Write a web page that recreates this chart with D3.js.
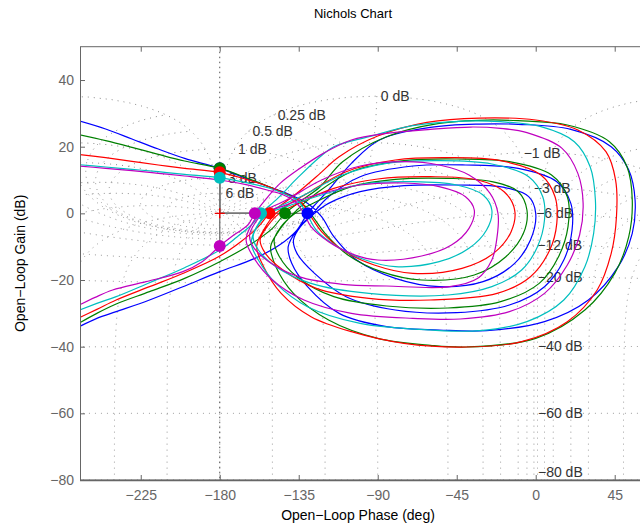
<!DOCTYPE html>
<html><head><meta charset="utf-8">
<script src="https://cdn.jsdelivr.net/npm/d3@7"></script>
<style>body{margin:0;background:#fff;overflow:hidden}text{font-family:"Liberation Sans",Arial,sans-serif}</style>
</head><body><svg id="c" width="640" height="527"></svg>
<script>
// ---------- data ----------
const xTicks = [-225, -180, -135, -90, -45, 0, 45];
const yTicks = [-80, -60, -40, -20, 0, 20, 40];
const gridGainsDb = [6, 3, 1, 0.5, 0.25, 0, -1, -3, -6, -12, -20, -40, -60, -80];
const gridPhasesDeg = [-1, -5, -10, -20, -30, -50, -90, -120, -150, -180, -210, -240, -270, -310, -330, -340, -350, -355, -359];
const seriesColors = ["#0000ff", "#008000", "#ff0000", "#00bfbf", "#bf00bf"];
// open-loop responses: [phase (deg), gain (dB)]
const blueResp = [[-262,28],[-245,25.3],[-230,22.3],[-215,19.3],[-200,16.5],[-180,13.5],[-165,10.5],[-150,7.6],[-140,5.6],[-130,3],[-122,-1],
 [-115,-7],[-102,-14],[-80,-19.5],[-55,-22],[-30,-20.5],[-12,-15],[-3,-8],[0,0],
 [-4,5],[-18,7.8],[-45,8.5],[-75,8.3],[-100,6.5],[-118,3],[-126,0],
 [-134,-4],[-138,-8],[-136,-12],
 [-126,-18],[-108,-25],[-80,-29],[-45,-29.8],[-15,-27.5],[5,-22],[16,-14],[20.7,-5],
 [20,3],[12,9.5],[-10,13.5],[-40,14.5],[-70,14.2],[-100,11],[-118,5],[-127,0],
 [-136,-5],[-141,-10],[-139,-15],
 [-130,-22],[-112,-30],[-85,-34],[-55,-35],[-28,-35.2],[5,-32.5],[30,-26],[47,-16],[55,-6],
 [56.6,4],[53,13],[43,20],[20,25.2],[-10,26.7],[-32,26.8],[-60,25.8],[-89,22],[-105,15],[-118,7],[-125,3],[-130,0],
 [-136,-5],[-146,-9.5],[-160,-13.5],[-180,-17.5],[-201,-22],[-220,-26],[-239,-29.5],[-250,-31.5],[-262,-34.5]];
const greenResp = [[-262,23.8],[-245,21.8],[-230,19.8],[-215,17.7],[-200,15.7],[-180,13.5],[-165,10.7],[-152,8],[-143,6],[-134,3.5],[-127,-1],
 [-120,-6],[-107,-12.5],[-88,-17.5],[-65,-20],[-35,-18.5],[-17,-13],[-7,-6],[-5,1],
 [-10,6.5],[-25,9.5],[-50,10.5],[-80,10.2],[-105,8],[-125,3.5],[-137,0],
 [-145,-4],[-149,-8],[-146,-13],
 [-136,-19],[-115,-25],[-85,-27.8],[-50,-28.4],[-20,-26.5],[2,-21],[13,-13],[18.4,-4],
 [18,5],[9,11.5],[-15,15.5],[-45,16.3],[-75,15.8],[-105,12.5],[-125,6],[-138,0],
 [-146,-5],[-151,-10],[-148,-16],
 [-138,-24],[-118,-32],[-90,-37.5],[-60,-39.6],[-39,-40.1],[0,-37.5],[28,-29],[45,-18],[53,-7],
 [55,4],[52,14],[42,21.5],[18,26.5],[-10,27.8],[-28,28],[-55,27],[-85,23],[-110,15.5],[-122.8,8],[-133,4],[-142.8,0],
 [-150,-4.5],[-163,-9.5],[-180,-14.5],[-200,-19.5],[-220,-23.5],[-239,-27.2],[-250,-30],[-262,-33.5]];
const redResp = [[-262,17.8],[-245,16.7],[-230,15.6],[-215,14.5],[-200,13.5],[-180,12.3],[-165,10.2],[-152,8],[-143,6],[-134,3.5],[-128,-1],
 [-122,-5.5],[-110,-11],[-92,-15.5],[-70,-18],[-42,-16.5],[-24,-12],[-14,-5.5],[-12,1],
 [-18,6.5],[-33,10],[-60,11],[-90,10.3],[-115,7.5],[-135,3],[-146,0],
 [-153,-4],[-157,-8],[-154,-12],
 [-144,-17],[-125,-22.5],[-95,-25.5],[-60,-26],[-22,-24],[-3,-19],[8,-11],[12,-3],
 [11,5],[3,11.5],[-20,15.8],[-50,16.7],[-80,16],[-108,12.5],[-130,6],[-148,0],
 [-155,-5],[-159,-10],[-155,-16],
 [-145,-24],[-128,-31],[-105,-35.5],[-75,-39],[-39,-40.1],[-8,-38.5],[18,-32.5],[35,-23],[43,-12],[46,-1],
 [45.5,10],[40,18.5],[24,25],[0,28],[-32,28.6],[-62,27.3],[-90,23.2],[-112,17],[-122.8,12],[-135,6.5],[-145,2.5],[-151.7,0],
 [-158,-4],[-168,-8.5],[-180,-12.8],[-200,-17.8],[-220,-22],[-239,-26],[-250,-28.8],[-262,-31.8]];
const cyanResp = [[-262,14.7],[-245,13.9],[-230,13.2],[-215,12.5],[-200,11.7],[-180,10.7],[-165,9.2],[-152,7.6],[-143,5.8],[-135,3.5],[-130,-0.5],
 [-125,-5],[-113,-10],[-97,-14],[-80,-16],[-55,-14.5],[-38,-10.5],[-28,-5],[-25,1],
 [-30,5.5],[-45,8.5],[-70,9.5],[-98,8.8],[-122,5.5],[-142,2],[-152,0],
 [-158,-3.5],[-161,-7],[-158,-11],
 [-148,-16],[-128,-21],[-95,-24],[-50,-24.5],[-25,-22],[-8,-17],[1,-10],[5,-2],
 [4,5],[-4,11],[-25,14.8],[-55,15.8],[-85,15],[-110,11.5],[-132,5.5],[-153,0],
 [-159,-4],[-162,-9],[-158,-14],
 [-148,-21],[-130,-28],[-100,-33],[-60,-35],[-32,-35.2],[-5,-32.5],[16,-26],[28,-16],[33,-6],
 [34,4],[31,14],[22,21.5],[3,26],[-20,27.5],[-41,27.7],[-70,26.3],[-95,23],[-115,20],[-122.8,17],[-135,11],[-147,4.5],[-156.5,0],
 [-162,-3.5],[-170,-7],[-180,-11],[-200,-16.3],[-220,-20.8],[-239,-25],[-250,-27],[-262,-29.5]];
const magentaResp = [[-262,14.3],[-245,13.5],[-230,12.8],[-215,12],[-200,11.2],[-180,10],[-165,8.6],[-153,7],[-144,5.6],[-137,3.5],[-132,0],
 [-128,-4],[-118,-8.5],[-104,-12.3],[-90,-14],[-65,-12.8],[-48,-9.5],[-38,-4.5],[-35,1],
 [-40,5],[-55,8],[-75,9.1],[-100,8.5],[-125,5.5],[-145,2],[-155,0],
 [-160,-3],[-163,-6.5],[-161,-10],
 [-152,-14.5],[-135,-19],[-110,-21.3],[-85,-21.8],[-49,-22],[-33,-19.5],[-25,-14],[-22,-7],[-21.5,0],
 [-26,6],[-38,11.5],[-55,14.5],[-75,15.5],[-100,14.2],[-122,10],[-142,4],[-157,0],
 [-162,-3.5],[-165,-8],[-161,-13],
 [-150,-20],[-132,-26],[-105,-30],[-70,-31.5],[-43,-31.7],[-15,-29.5],[5,-24],[18,-15.5],[25,-6.5],
 [27,3],[24,12],[15,19.5],[-5,24.2],[-20,25.5],[-37,25.9],[-60,25.2],[-85,24],[-105,22],[-121,18],[-134,13.6],[-145.6,9],[-153.2,4.6],[-160,0],
 [-164,-3.5],[-172,-6.5],[-180,-9.8],[-190,-14.5],[-201,-17.5],[-222,-20.5],[-241,-23],[-251,-25.2],[-262,-28]];
const gainMarginPts = [[-180,13.5],[-180,13.5],[-180,12.3],[-180,10.7],[-180,-9.8]];
const phaseMarginPts = [[-130,0],[-142.8,0],[-151.7,0],[-156.5,0],[-160,0]];
const seriesResp = [blueResp, greenResp, redResp, cyanResp, magentaResp];

// ---------- layout ----------
const svg = d3.select("#c");
const L = 80, R = 658.6, T = 46.7, B = 480;
const x = d3.scaleLinear().domain([-259.6, 70]).range([L, R]);
const y = d3.scaleLinear().domain([-80, 50]).range([B, T]);

svg.append("defs").append("clipPath").attr("id", "clip")
  .append("rect").attr("x", L).attr("y", T).attr("width", R - L).attr("height", B - T);

const gridG = svg.append("g").attr("clip-path", "url(#clip)");
const lineGen = d3.line().x(d => x(d[0])).y(d => y(d[1]));

function openLoop(mag, thDeg) {
  const th = thDeg * Math.PI / 180;
  const tr = mag * Math.cos(th), ti = mag * Math.sin(th);
  const dr = 1 - tr, di = -ti;
  const den = dr * dr + di * di;
  const lr = (tr * dr + ti * di) / den, li = (ti * dr - tr * di) / den;
  return [Math.atan2(li, lr) * 180 / Math.PI, 10 * Math.log10(lr * lr + li * li)];
}
function unwrap(pts) {
  for (let i = 1; i < pts.length; i++) {
    while (pts[i][0] - pts[i - 1][0] > 180) pts[i][0] -= 360;
    while (pts[i][0] - pts[i - 1][0] < -180) pts[i][0] += 360;
  }
  return pts;
}
const shifts = [-360, 0, 360];
const gridStyle = s => s.attr("fill", "none").attr("stroke", "#8a8a8a").attr("stroke-width", 1).attr("stroke-dasharray", "1,5");

// closed-loop gain contours
const labelPts = [];
gridGainsDb.forEach(db => {
  const m = Math.pow(10, db / 20);
  const pts = [];
  for (let th = -1; th >= -359; th -= 0.25) pts.push(openLoop(m, th));
  unwrap(pts);
  labelPts.push({ db, p: pts[0] });
  shifts.forEach(s => {
    gridG.append("path").datum(pts.map(d => [d[0] + s, Math.max(-120, d[1])])).attr("d", lineGen).call(gridStyle);
  });
});
// closed-loop phase contours
gridPhasesDeg.forEach(ph => {
  const pts = [];
  for (let t = -5; t <= 4; t += 0.002) pts.push(openLoop(Math.pow(10, t), ph));
  pts[0][0] = ph;
  unwrap(pts);
  shifts.forEach(s => {
    gridG.append("path").datum(pts.map(d => [d[0] + s, d[1]])).attr("d", lineGen).call(gridStyle);
  });
});
// -180 line
gridG.append("line").attr("x1", x(-180)).attr("x2", x(-180)).attr("y1", T).attr("y2", B)
  .attr("stroke", "#555").attr("stroke-width", 1).attr("stroke-dasharray", "1.5,3.5");

// contour labels
const labG = svg.append("g");
labelPts.forEach(o => {
  let yy = y(o.p[1]);
  yy = Math.min(yy, B - 8);
  labG.append("text").attr("x", x(o.p[0]) + 4).attr("y", yy).attr("dy", "0.35em")
    .attr("font-size", 14).attr("fill", "#333")
    .text((o.db < 0 ? "\u2212" + (-o.db) : o.db) + " dB");
});

// margin lines
const mG = svg.append("g").attr("clip-path", "url(#clip)");
gainMarginPts.concat(phaseMarginPts).forEach(p => {
  mG.append("line").attr("x1", x(-180)).attr("x2", x(p[0])).attr("y1", y(0)).attr("y2", y(p[1]))
    .attr("stroke", "#777").attr("stroke-width", 1.3);
});

// responses
const respG = svg.append("g").attr("clip-path", "url(#clip)");
const curveGen = d3.line().x(d => x(d[0])).y(d => y(d[1])).curve(d3.curveCatmullRom.alpha(0.5));
seriesResp.forEach((r, i) => {
  respG.append("path").datum(r).attr("d", curveGen).attr("fill", "none")
    .attr("stroke", seriesColors[i]).attr("stroke-width", 1.2);
});
// critical point marker
const cx = x(-180), cy = y(0);
respG.append("path").attr("d", `M${cx - 5},${cy}H${cx + 5}M${cx},${cy - 5}V${cy + 5}`).attr("stroke", "#e00").attr("stroke-width", 1.3);
// margin markers
seriesColors.forEach((c, i) => {
  [gainMarginPts[i], phaseMarginPts[i]].forEach(p => {
    respG.append("circle").attr("cx", x(p[0])).attr("cy", y(p[1])).attr("r", 6).attr("fill", c);
  });
});

// axes
const axG = svg.append("g");
axG.append("rect").attr("x", L + 0.5).attr("y", T).attr("width", R - L).attr("height", B - T)
  .attr("fill", "none").attr("stroke", "#666").attr("stroke-width", 1);
const fmt = d => d < 0 ? "\u2212" + (-d) : d;
const xAxisB = d3.axisBottom(x).tickValues(xTicks).tickSizeInner(-5).tickSizeOuter(0).tickPadding(10).tickFormat(fmt);
const xAxisT = d3.axisTop(x).tickValues(xTicks).tickSizeInner(-5).tickSizeOuter(0).tickFormat("");
const yAxisL = d3.axisLeft(y).tickValues(yTicks).tickSizeInner(-5).tickSizeOuter(0).tickPadding(6).tickFormat(fmt);
function styleAx(g) {
  g.select(".domain").remove();
  g.selectAll("line").attr("stroke", "#666");
  g.selectAll("text").attr("fill", "#666").attr("font-size", 14).attr("font-family", "Liberation Sans, Arial, sans-serif");
}
axG.append("g").attr("transform", `translate(0,${B})`).call(xAxisB).call(styleAx);
axG.append("g").attr("transform", `translate(0,${T})`).call(xAxisT).call(styleAx);
axG.append("g").attr("transform", `translate(${L},0)`).call(yAxisL).call(styleAx);
axG.append("line").attr("x1", L).attr("x2", 640).attr("y1", B + 0.5).attr("y2", B + 0.5).attr("stroke", "#666").attr("stroke-width", 1.5);

// titles
svg.append("text").attr("x", 353).attr("y", 18).attr("text-anchor", "middle").attr("font-size", 13).attr("fill", "#000").text("Nichols Chart");
svg.append("text").attr("x", 358).attr("y", 520).attr("text-anchor", "middle").attr("font-size", 14).attr("fill", "#000").text("Open\u2212Loop Phase (deg)");
svg.append("text").attr("transform", `translate(25,${(T + B) / 2}) rotate(-90)`).attr("text-anchor", "middle").attr("font-size", 14).attr("fill", "#000").text("Open\u2212Loop Gain (dB)");
</script></body></html>
